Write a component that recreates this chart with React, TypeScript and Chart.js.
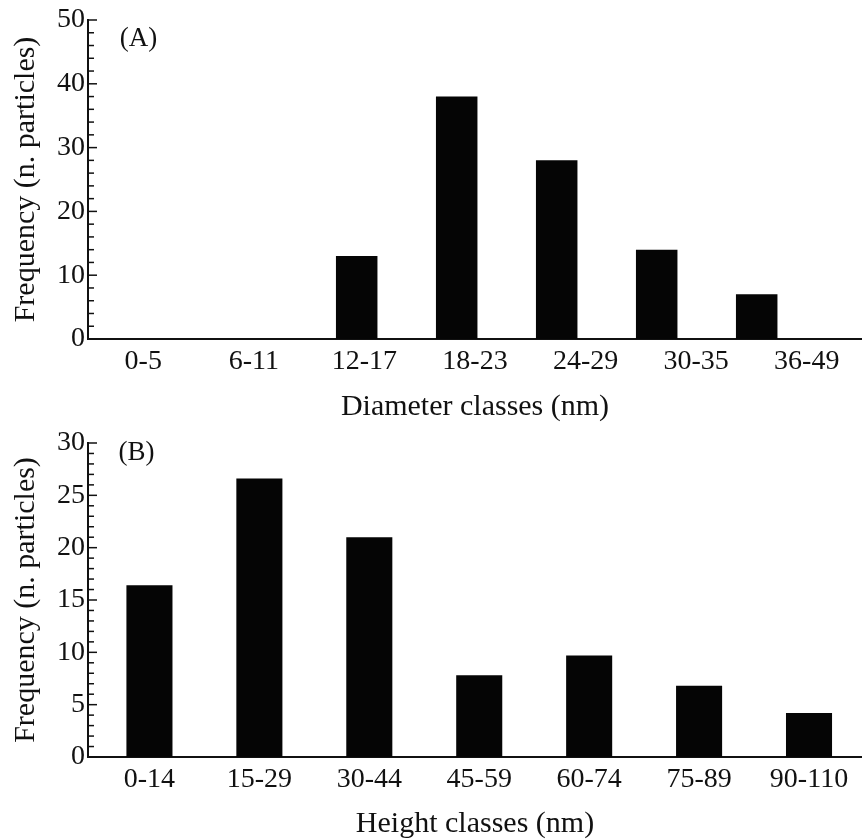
import React, { useEffect, useRef } from 'react';
import { Chart, registerables } from 'chart.js';

Chart.register(...registerables);

// ---- data ----
const diameterClasses = ['0-5', '6-11', '12-17', '18-23', '24-29', '30-35', '36-49'];
const diameterFrequency = [0, 0, 13, 38, 28, 14, 7];
const diameterYTicks = [0, 10, 20, 30, 40, 50];

const heightClasses = ['0-14', '15-29', '30-44', '45-59', '60-74', '75-89', '90-110'];
const heightFrequency = [16.4, 26.6, 21.0, 7.8, 9.7, 6.8, 4.2];
const heightYTicks = [0, 5, 10, 15, 20, 25, 30];

const FONT = 'Liberation Serif';
const INK = '#111111';
const BAR = '#050505';

function makeDecor(panel: string, minorStep: number, majorStep: number, dx: number, dy: number) {
  return {
    id: 'axisDecor' + panel,
    afterDraw(chart: any) {
      const { ctx, chartArea } = chart;
      const y = chart.scales.y;
      ctx.save();
      ctx.strokeStyle = INK;
      ctx.lineWidth = 1.5;
      const left = chartArea.left;
      const n = Math.round((y.max - y.min) / minorStep);
      for (let k = 0; k <= n; k++) {
        const v = y.min + k * minorStep;
        const py = y.getPixelForValue(v);
        const r = v / majorStep;
        const major = Math.abs(r - Math.round(r)) < 1e-6;
        const len = major ? 9 : 6;
        ctx.beginPath();
        ctx.moveTo(left, py);
        ctx.lineTo(left + len, py);
        ctx.stroke();
      }
      ctx.font = `27px "${FONT}"`;
      ctx.fillStyle = INK;
      ctx.textAlign = 'center';
      ctx.textBaseline = 'middle';
      ctx.fillText(panel, left + dx, chartArea.top + dy);
      ctx.restore();
    },
  };
}

const tickFont = { family: FONT, size: 28 };
const titleFont = { family: FONT, size: 30, lineHeight: 1 };

function yAxis(max: number, ticks: number[]) {
  return {
    min: 0,
    max,
    afterBuildTicks: (s: any) => {
      s.ticks = ticks.map((v) => ({ value: v }));
    },
    ticks: { font: tickFont, color: INK, padding: 3 },
    grid: { display: false, drawTicks: false },
    border: { display: true, color: INK, width: 2 },
    title: {
      display: true,
      text: 'Frequency (n. particles)',
      font: titleFont,
      color: INK,
      padding: { top: 11, bottom: 0 },
    },
    afterFit: (s: any) => {
      s.width = 88;
    },
  };
}

function topConfig(): any {
  return {
    type: 'bar',
    data: {
      labels: diameterClasses,
      datasets: [
        {
          data: diameterFrequency.map((v, i) => ({ x: i, y: v })),
          backgroundColor: BAR,
          borderWidth: 0,
          barPercentage: 0.415,
          categoryPercentage: 1,
          xAxisID: 'x',
          yAxisID: 'y',
        },
      ],
    },
    options: {
      animation: false,
      responsive: false,
      layout: { padding: { top: 20, left: 0, right: 0, bottom: 0 } },
      plugins: { legend: { display: false }, tooltip: { enabled: false } },
      scales: {
        x: {
          type: 'linear',
          display: false,
          offset: false,
          min: -0.687,
          max: 7.053,
          afterBuildTicks: (s: any) => {
            s.ticks = diameterClasses.map((_, i) => ({ value: i }));
          },
        },
        xl: {
          type: 'category',
          position: 'bottom',
          labels: diameterClasses,
          offset: true,
          grid: { display: false, drawTicks: false },
          border: { display: true, color: INK, width: 2 },
          ticks: { font: tickFont, color: INK, padding: 6, maxRotation: 0, autoSkip: false },
          title: {
            display: true,
            text: 'Diameter classes (nm)',
            font: titleFont,
            color: INK,
            padding: { top: 0, bottom: 17.5 },
          },
          afterFit: (s: any) => {
            s.height = 101;
          },
        },
        y: yAxis(50, diameterYTicks),
      },
    },
    plugins: [makeDecor('(A)', 2, 10, 50.5, 18.5)],
  };
}

function bottomConfig(): any {
  return {
    type: 'bar',
    data: {
      labels: heightClasses,
      datasets: [
        {
          data: heightFrequency.map((v, i) => ({ x: i, y: v })),
          backgroundColor: BAR,
          borderWidth: 0,
          barPercentage: 0.419,
          categoryPercentage: 1,
          xAxisID: 'x',
          yAxisID: 'y',
        },
      ],
    },
    options: {
      animation: false,
      responsive: false,
      layout: { padding: { top: 43, left: 0, right: 0, bottom: 0 } },
      plugins: { legend: { display: false }, tooltip: { enabled: false } },
      scales: {
        x: {
          type: 'linear',
          position: 'bottom',
          offset: false,
          min: -0.559,
          max: 6.482,
          afterBuildTicks: (s: any) => {
            s.ticks = heightClasses.map((_, i) => ({ value: i }));
          },
          grid: { display: false, drawTicks: false },
          border: { display: true, color: INK, width: 2 },
          ticks: {
            font: tickFont,
            color: INK,
            padding: 6,
            maxRotation: 0,
            autoSkip: false,
            callback: (_v: any, index: number) => heightClasses[index],
          },
          title: {
            display: true,
            text: 'Height classes (nm)',
            font: titleFont,
            color: INK,
            padding: { top: 0, bottom: 1 },
          },
          afterFit: (s: any) => {
            s.height = 83;
          },
        },
        y: yAxis(30, heightYTicks),
      },
    },
    plugins: [makeDecor('(B)', 1, 5, 48.5, 10)],
  };
}

export default function App() {
  const topRef = useRef<HTMLCanvasElement>(null);
  const bottomRef = useRef<HTMLCanvasElement>(null);

  useEffect(() => {
    Chart.defaults.font.family = FONT;
    Chart.defaults.color = INK;
    const a = new Chart(topRef.current as HTMLCanvasElement, topConfig());
    const b = new Chart(bottomRef.current as HTMLCanvasElement, bottomConfig());
    return () => {
      a.destroy();
      b.destroy();
    };
  }, []);

  return (
    <div style={{ position: 'absolute', left: 0, top: 0, width: 862, height: 840, background: '#fff', overflow: 'hidden' }}>
      <canvas
        ref={topRef}
        width={862}
        height={440}
        style={{ position: 'absolute', left: 0, top: 0, width: 862, height: 440 }}
      />
      <canvas
        ref={bottomRef}
        width={862}
        height={440}
        style={{ position: 'absolute', left: 0, top: 400, width: 862, height: 440 }}
      />
    </div>
  );
}
